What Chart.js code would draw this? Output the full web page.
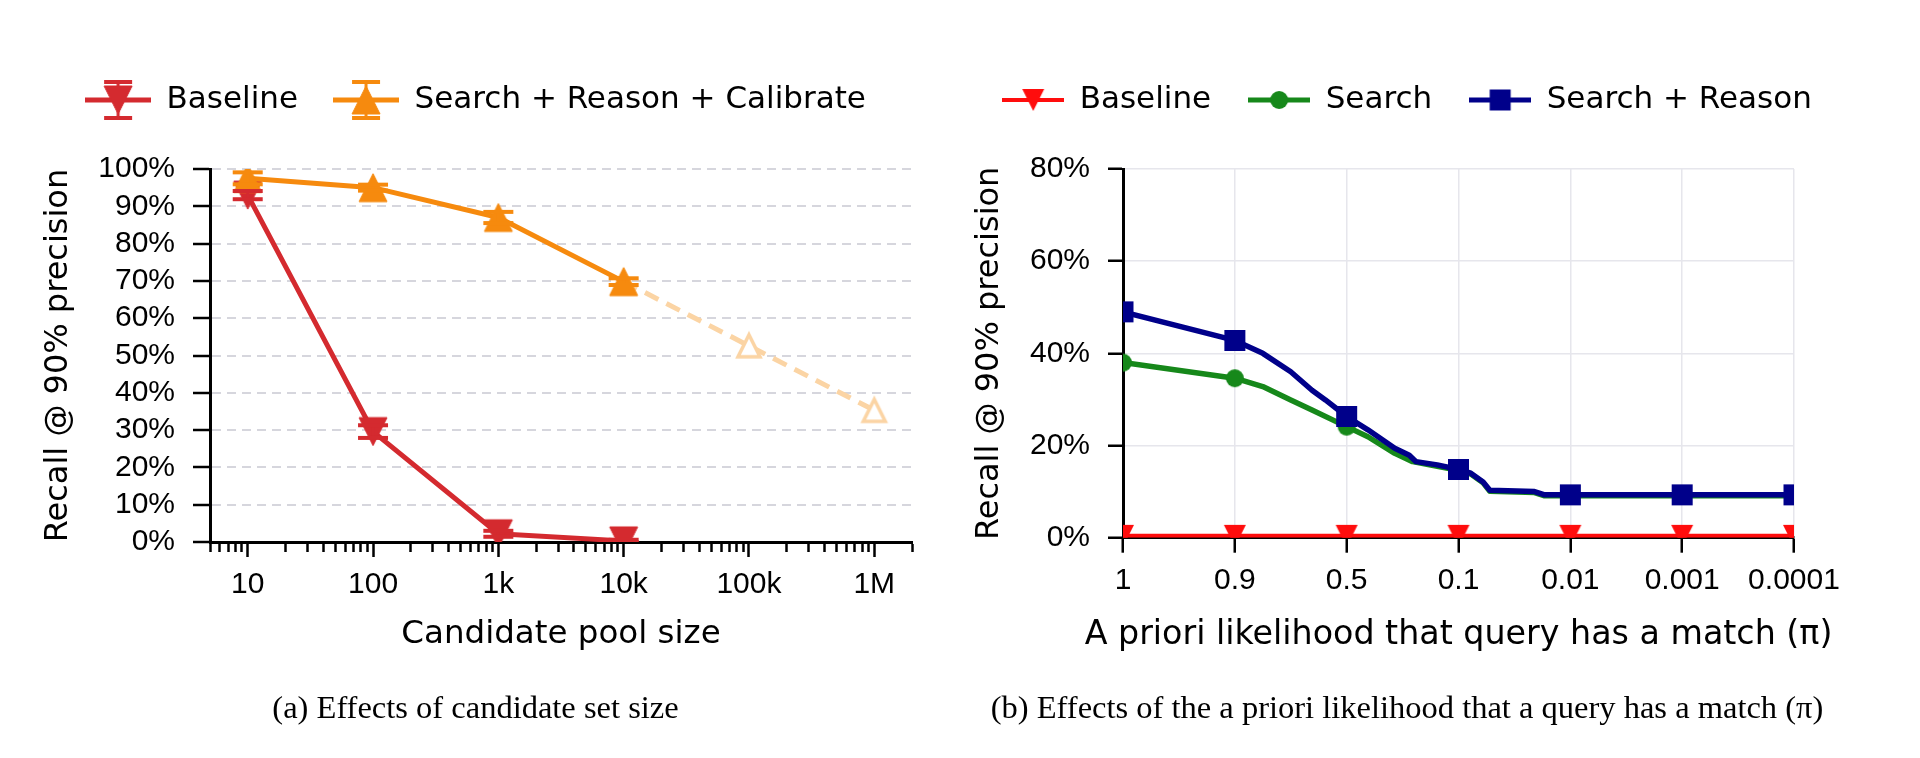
<!DOCTYPE html>
<html>
<head>
<meta charset="utf-8">
<script src="https://cdn.jsdelivr.net/npm/chart.js@4.4.1/dist/chart.umd.min.js"></script>
<style>
  body { margin: 0; background: #fff; width: 1920px; height: 758px; overflow: hidden; position: relative; }
  canvas { position: absolute; top: 0; }
  #poolChart { left: 0; }
  #priorChart { left: 960px; }
</style>
</head>
<body>
<canvas id="poolChart" width="950" height="758"></canvas>
<canvas id="priorChart" width="960" height="758"></canvas>
<script>
// (a) recall vs candidate pool size
const poolSizes = [10, 100, 1000, 10000];
const baselineRecall = [93, 29.6, 2.2, 0.3];
const baselineErr = [1.1, 1.7, 0.8, 0.3];
const calibratedRecall = [97.5, 95, 87, 69.8];
const calibratedErr = [1.6, 0.8, 1.5, 0.9];
const extrapSizes = [10000, 100000, 1000000];
const extrapRecall = [69.8, 52.6, 35.3];
const poolTickValues = [10, 100, 1000, 10000, 100000, 1000000];
const poolTickLabels = ['10', '100', '1k', '10k', '100k', '1M'];
const recallTicksA = [0, 10, 20, 30, 40, 50, 60, 70, 80, 90, 100];

// (b) recall vs prior likelihood of a match (x = position along the pi axis)
const priorLabels = ['1', '0.9', '0.5', '0.1', '0.01', '0.001', '0.0001'];
const priorBaseline = [0.4, 0.4, 0.4, 0.4, 0.4, 0.4, 0.4];
const searchPos = [0, 1, 1.25, 1.5, 1.69, 2, 2.19, 2.43, 2.59, 2.81, 3, 3.11, 3.22, 3.28, 3.68, 3.77, 4, 5, 6];
const searchRecall = [38, 34.6, 32.8, 29.9, 27.7, 24.1, 21.9, 18.3, 16.5, 15.5, 14.6, 13.8, 11.9, 10.1, 9.8, 9.1, 9.1, 9.1, 9.1];
const reasonPos = [0, 1, 1.25, 1.5, 1.69, 1.81, 2, 2.19, 2.43, 2.56, 2.62, 2.81, 3, 3.11, 3.22, 3.28, 3.68, 3.77, 4, 5, 6];
const reasonRecall = [49, 42.8, 40, 36, 32, 29.9, 26.3, 23.4, 19.4, 17.9, 16.5, 15.8, 14.8, 14, 12.1, 10.3, 10, 9.3, 9.3, 9.3, 9.3];
const recallTicksB = [0, 20, 40, 60, 80];

const RED_A = '#d42a2f', ORANGE = '#f68a0e', ORANGE_LIGHT = '#fbd4a4';
const RED_B = '#ff0d0d', GREEN = '#16881a', NAVY = '#00008a';

Chart.defaults.font.family = "'DejaVu Sans', sans-serif";
Chart.defaults.color = '#000';
const tickFont = { family: "'Liberation Sans', sans-serif", size: 30 };
const captionFont = { family: "'Liberation Serif', serif", size: 32.5, weight: 'normal' };

// marker drawn centred on its bounding box, like the original plot
function marker(shape, size, fill, stroke, lw) {
  const pad = Math.ceil(lw || 0) + 1;
  const c = document.createElement('canvas');
  c.width = c.height = size + pad * 2;
  const g = c.getContext('2d');
  const a = pad, b = pad + size, m = pad + size / 2;
  g.beginPath();
  if (shape === 'up') { g.moveTo(m, a); g.lineTo(b, b); g.lineTo(a, b); g.closePath(); }
  else if (shape === 'down') { g.moveTo(a, a); g.lineTo(b, a); g.lineTo(m, b); g.closePath(); }
  else if (shape === 'square') { g.rect(a, a, size, size); }
  else { g.arc(m, m, size / 2, 0, Math.PI * 2); }
  g.fillStyle = fill; g.fill();
  if (lw) { g.lineWidth = lw; g.strokeStyle = stroke; g.stroke(); }
  return c;
}

function legendIcon(w, color, lineW, mark, cap) {
  const c = document.createElement('canvas');
  c.width = w; c.height = 46;
  const g = c.getContext('2d');
  const cy = 23, cx = w / 2;
  g.strokeStyle = color;
  g.lineWidth = lineW;
  g.beginPath(); g.moveTo(0, cy); g.lineTo(w, cy); g.stroke();
  if (cap) {
    g.lineWidth = 3;
    g.beginPath(); g.moveTo(cx, cy - cap); g.lineTo(cx, cy + cap); g.stroke();
    g.lineWidth = 4;
    [cy - cap, cy + cap].forEach(yy => { g.beginPath(); g.moveTo(cx - 14, yy); g.lineTo(cx + 14, yy); g.stroke(); });
  }
  g.drawImage(mark, cx - mark.width / 2, cy - mark.height / 2);
  return c;
}

const triUpOrange = marker('up', 28, ORANGE, ORANGE, 1);
const triDownRed = marker('down', 28, RED_A, RED_A, 1);
const triHollow = marker('up', 22, '#fff', ORANGE_LIGHT, 3.5);
const triDownRedB = marker('down', 22, RED_B, RED_B, 0);
const dotGreen = marker('circle', 18, GREEN, GREEN, 0);
const squareNavy = marker('square', 21, NAVY, NAVY, 0);

// keep legend / caption / x title on one unsqueezed line and push the plot area below the legend
const legendGap = {
  id: 'legendGap',
  afterInit(chart, args, opts) {
    const lg = chart.legend;
    const fit = lg.fit;
    lg.fit = function () {
      if (opts && opts.rowWidth) this.maxWidth = Math.max(this.maxWidth, opts.rowWidth);
      fit.call(this);
      this.height += (opts && opts.extra) || 0;
    };
  },
  afterLayout(chart, args, opts) {
    const grow = (opts && opts.grow) || 0;
    [chart.legend, chart.titleBlock].forEach(b => {
      if (!b) return;
      b.left -= grow; b.right += grow; b.width += 2 * grow;
    });
    const sx = chart.scales.x;
    if (!sx._wideTitle) {
      const draw = sx.drawTitle;
      sx.drawTitle = function () {
        const l = this.left, r = this.right;
        this.left -= grow; this.right += grow;
        draw.call(this);
        this.left = l; this.right = r;
      };
      sx._wideTitle = true;
    }
  }
};

// vertical error bars with caps
const errorBars = {
  id: 'errorBars',
  afterDatasetsDraw(chart) {
    const { ctx, chartArea, scales } = chart;
    ctx.save();
    ctx.beginPath();
    ctx.rect(chartArea.left, chartArea.top, chartArea.right - chartArea.left, chartArea.bottom - chartArea.top);
    ctx.clip();
    chart.data.datasets.forEach(ds => {
      if (!ds.errors) return;
      ctx.strokeStyle = ds.borderColor;
      ds.data.forEach((p, j) => {
        const e = ds.errors[j];
        const px = scales.x.getPixelForValue(p.x);
        const top = scales.y.getPixelForValue(p.y + e);
        const bot = scales.y.getPixelForValue(p.y - e);
        ctx.lineWidth = 3;
        ctx.beginPath(); ctx.moveTo(px, top); ctx.lineTo(px, bot); ctx.stroke();
        ctx.lineWidth = 4;
        [top, bot].forEach(yy => { ctx.beginPath(); ctx.moveTo(px - 15, yy); ctx.lineTo(px + 15, yy); ctx.stroke(); });
      });
    });
    ctx.restore();
  }
};

function pairs(xs, ys) { return xs.map((x, i) => ({ x: x, y: ys[i] })); }
function fixedTicks(values) { return s => { s.ticks = values.map(v => ({ value: v })); }; }

new Chart(document.getElementById('poolChart'), {
  type: 'line',
  data: {
    datasets: [
      { label: 'Search + Reason + Calibrate', data: pairs(poolSizes, calibratedRecall), errors: calibratedErr,
        borderColor: ORANGE, borderWidth: 5, pointStyle: triUpOrange, pointRadius: 14, order: 0, clip: 0 },
      { label: 'Baseline', data: pairs(poolSizes, baselineRecall), errors: baselineErr,
        borderColor: RED_A, borderWidth: 5, pointStyle: triDownRed, pointRadius: 14, order: 1, clip: 0 },
      { label: 'extrapolated', data: pairs(extrapSizes, extrapRecall),
        borderColor: ORANGE_LIGHT, borderWidth: 5, borderDash: [15, 9], pointStyle: triHollow, pointRadius: 12, order: 2, clip: 0 }
    ]
  },
  options: {
    responsive: false, animation: false, devicePixelRatio: 1,
    elements: { line: { tension: 0, borderJoinStyle: 'round' } },
    layout: { padding: { top: 49.5, left: 39, right: 38, bottom: 0 } },
    plugins: {
      legend: {
        labels: {
          usePointStyle: true, pointStyleWidth: 66, padding: 35, font: { size: 31 },
          generateLabels: () => [
            { text: 'Baseline', pointStyle: legendIcon(66, RED_A, 5, triDownRed, 18), fontColor: '#000', lineWidth: 0, datasetIndex: 1 },
            { text: 'Search + Reason + Calibrate', pointStyle: legendIcon(66, ORANGE, 5, triUpOrange, 18), fontColor: '#000', lineWidth: 0, datasetIndex: 0 }
          ]
        }
      },
      legendGap: { extra: 43.5, rowWidth: 950, grow: 30 },
      title: { display: true, position: 'bottom', text: '(a) Effects of candidate set size', font: captionFont, padding: { top: 0, bottom: 29.5 } },
      tooltip: { enabled: false }
    },
    scales: {
      x: {
        type: 'logarithmic', min: 5, max: 2000000,
        afterFit: s => { s.height = 147.5; },
        afterBuildTicks: s => {
          const t = [];
          for (let e = 0; e <= 6; e++) {
            for (let n = 1; n <= 9; n++) {
              const v = n * Math.pow(10, e);
              if (v >= 5 && v <= 2000000) t.push({ value: v, major: n === 1 });
            }
          }
          s.ticks = t;
        },
        grid: { drawOnChartArea: false, tickLength: 15, tickColor: '#000', tickWidth: 2.5,
                tickBorderDash: c => (c.tick && c.tick.major) ? [] : [8, 40] },
        border: { color: '#000', width: 3 },
        ticks: { autoSkip: false, maxRotation: 0, padding: 9.5, font: tickFont,
                 callback: v => { const k = poolTickValues.findIndex(t => Math.abs(Math.log10(t) - Math.log10(v)) < 1e-6); return k < 0 ? '' : poolTickLabels[k]; } },
        title: { display: true, text: 'Candidate pool size', font: { size: 32.5 }, padding: { top: 0, bottom: 35 } }
      },
      y: {
        min: 0, max: 100,
        afterFit: s => { s.width = 171; },
        afterBuildTicks: fixedTicks(recallTicksA),
        ticks: { autoSkip: false, padding: 18, font: tickFont, callback: v => v + '%' },
        grid: { color: c => c.tick && c.tick.value === 0 ? 'rgba(0,0,0,0)' : '#d6d6dd', lineWidth: 2,
                tickLength: 17, tickColor: '#000', tickWidth: 2.5 },
        border: { color: '#000', width: 3, dash: [9, 6] },
        title: { display: true, text: 'Recall @ 90% precision', font: { size: 32 }, padding: 0 }
      }
    }
  },
  plugins: [legendGap, errorBars]
});

new Chart(document.getElementById('priorChart'), {
  type: 'line',
  data: {
    datasets: [
      { label: 'Search + Reason', data: pairs(reasonPos, reasonRecall), borderColor: NAVY, borderWidth: 5.5,
        pointStyle: squareNavy, pointRadius: c => Number.isInteger(c.raw.x) ? 10 : 0, order: 0, clip: 0 },
      { label: 'Search', data: pairs(searchPos, searchRecall), borderColor: GREEN, borderWidth: 5.5,
        pointStyle: dotGreen, pointRadius: c => Number.isInteger(c.raw.x) ? 9 : 0, order: 1, clip: 0 },
      { label: 'Baseline', data: pairs(priorLabels.map((l, i) => i), priorBaseline), borderColor: RED_B, borderWidth: 4,
        pointStyle: triDownRedB, pointRadius: 11, order: 2, clip: 0 }
    ]
  },
  options: {
    responsive: false, animation: false, devicePixelRatio: 1,
    elements: { line: { tension: 0, borderJoinStyle: 'round' } },
    layout: { padding: { top: 47.5, left: 60, right: 126, bottom: 0 } },
    plugins: {
      legend: {
        labels: {
          usePointStyle: true, pointStyleWidth: 62, padding: 37, font: { size: 31 },
          generateLabels: () => [
            { text: 'Baseline', pointStyle: legendIcon(62, RED_B, 4, triDownRedB, 0), fontColor: '#000', lineWidth: 0, datasetIndex: 2 },
            { text: 'Search', pointStyle: legendIcon(62, GREEN, 5, dotGreen, 0), fontColor: '#000', lineWidth: 0, datasetIndex: 1 },
            { text: 'Search + Reason', pointStyle: legendIcon(62, NAVY, 5, squareNavy, 0), fontColor: '#000', lineWidth: 0, datasetIndex: 0 }
          ]
        }
      },
      legendGap: { extra: 43.5, rowWidth: 960, grow: 58 },
      title: { display: true, position: 'bottom', text: '(b) Effects of the a priori likelihood that a query has a match (π)', font: captionFont, padding: { top: 0, bottom: 29.5 } },
      tooltip: { enabled: false }
    },
    scales: {
      x: {
        type: 'linear', min: 0, max: 6,
        afterFit: s => { s.height = 151.8; },
        ticks: { stepSize: 1, padding: 9.7, font: tickFont, maxRotation: 0, autoSkip: false, callback: v => priorLabels[v] },
        grid: { color: '#e6e6ec', lineWidth: 1.5, tickLength: 15, tickColor: '#000', tickWidth: 2.5 },
        border: { color: '#000', width: 3 },
        title: { display: true, text: 'A priori likelihood that query has a match (π)', font: { size: 33.3 }, padding: { top: 0, bottom: 34.5 } }
      },
      y: {
        min: 0, max: 80,
        afterFit: s => { s.width = 103; },
        afterBuildTicks: fixedTicks(recallTicksB),
        ticks: { autoSkip: false, padding: 18, font: tickFont, callback: v => v + '%' },
        grid: { color: '#e6e6ec', lineWidth: 1.5, tickLength: 15, tickColor: '#000', tickWidth: 2.5 },
        border: { color: '#000', width: 3 },
        title: { display: true, text: 'Recall @ 90% precision', font: { size: 32 }, padding: { top: -49.2, bottom: 0 } }
      }
    }
  },
  plugins: [legendGap]
});
</script>
</body>
</html>
